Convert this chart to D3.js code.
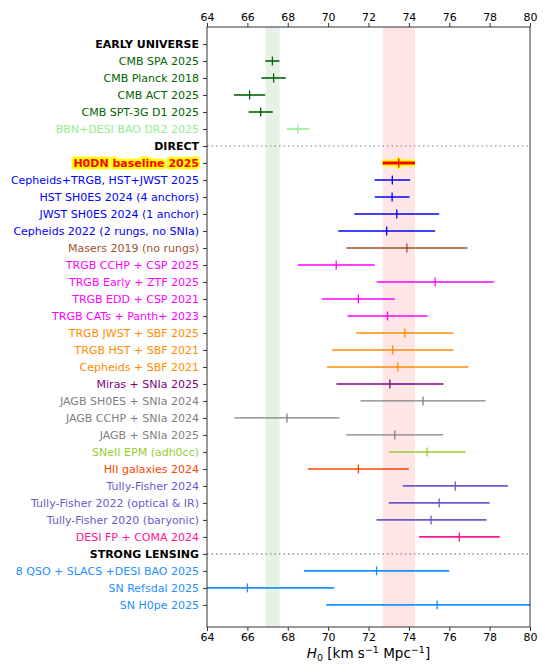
<!doctype html>
<html>
<head>
<meta charset="utf-8">
<style>
  body{ margin:0; background:#fff; }
  text{ font-family: "DejaVu Sans", sans-serif; }
</style>
<script src="https://d3js.org/d3.v7.min.js"></script>
</head>
<body>
<div id="chart"></div>
<script>
// rows, top to bottom (headings have no value)
var labels = ["EARLY UNIVERSE", "CMB SPA 2025", "CMB Planck 2018", "CMB ACT 2025", "CMB SPT-3G D1 2025",
  "BBN+DESI BAO DR2 2025", "DIRECT", "H0DN baseline 2025", "Cepheids+TRGB, HST+JWST 2025",
  "HST SH0ES 2024 (4 anchors)", "JWST SH0ES 2024 (1 anchor)", "Cepheids 2022 (2 rungs, no SNIa)",
  "Masers 2019 (no rungs)", "TRGB CCHP + CSP 2025", "TRGB Early + ZTF 2025", "TRGB EDD + CSP 2021",
  "TRGB CATs + Panth+ 2023", "TRGB JWST + SBF 2025", "TRGB HST + SBF 2021", "Cepheids + SBF 2021",
  "Miras + SNIa 2025", "JAGB SH0ES + SNIa 2024", "JAGB CCHP + SNIa 2024", "JAGB + SNIa 2025",
  "SNeII EPM (adh0cc)", "HII galaxies 2024", "Tully-Fisher 2024", "Tully-Fisher 2022 (optical & IR)",
  "Tully-Fisher 2020 (baryonic)", "DESI FP + COMA 2024", "STRONG LENSING", "8 QSO + SLACS +DESI BAO 2025",
  "SN Refsdal 2025", "SN H0pe 2025"];
var h0 = [null, 67.24, 67.3, 66.11, 66.66, 68.5, null, 73.5, 73.18, 73.17, 73.4, 72.9, 73.9, 70.4, 75.3,
  71.5, 72.94, 73.8, 73.2, 73.45, 73.06, 74.7, 67.96, 73.3, 74.9, 71.5, 76.3, 75.5, 75.1, 76.5, null,
  72.4, 66.0, 75.4];
var errLow = [null, 0.35, 0.6, 0.77, 0.6, 0.55, null, 0.8, 0.88, 0.86, 2.1, 2.4, 3.0, 1.9, 2.9, 1.8, 1.98,
  2.4, 3.0, 3.5, 2.65, 3.1, 2.6, 2.4, 1.9, 2.5, 2.6, 2.5, 2.7, 2.0, null, 3.6, 4.3, 5.5];
var errHigh = [null, 0.35, 0.6, 0.77, 0.6, 0.55, null, 0.8, 0.88, 0.86, 2.1, 2.4, 3.0, 1.9, 2.9, 1.8, 1.98,
  2.4, 3.0, 3.5, 2.65, 3.1, 2.6, 2.4, 1.9, 2.5, 2.6, 2.5, 2.75, 2.0, null, 3.6, 4.3, 8.1];
var groups = ["head", "cmb", "cmb", "cmb", "cmb", "bbn", "head", "h0dn", "ceph", "ceph", "ceph", "ceph",
  "maser", "trgb", "trgb", "trgb", "trgb", "sbf", "sbf", "sbf", "mira", "jagb", "jagb", "jagb", "sn2",
  "hii", "tf", "tf", "tf", "fp", "head", "lens", "lens", "lens"];
var dottedRows = ["DIRECT", "STRONG LENSING"];
var xTicks = [64, 66, 68, 70, 72, 74, 76, 78, 80];
var bandEarly = [66.9, 67.6];
var bandLate = [72.7, 74.3];

var colors = {head: "black", cmb: "darkgreen", bbn: "lightgreen", h0dn: "red", ceph: "blue",
  maser: "sienna", trgb: "magenta", sbf: "darkorange", mira: "purple", jagb: "gray",
  sn2: "yellowgreen", hii: "orangered", tf: "slateblue", fp: "deeppink", lens: "dodgerblue"};

var width = 547, height = 666;
var margin = {top: 27, right: 17, bottom: 39, left: 207};

var svg = d3.select("#chart").append("svg")
  .attr("width", width)
  .attr("height", height);

var x = d3.scaleLinear().domain([64, 80]).range([margin.left, width - margin.right]);
var y = d3.scaleLinear().domain([-1, 34.3]).range([margin.top, height - margin.bottom]);

var rows = labels.map(function(d, i) {
  return {label: d, h0: h0[i], lo: errLow[i], hi: errHigh[i], group: groups[i], i: i};
});

svg.append("clipPath").attr("id", "plotclip")
  .append("rect")
  .attr("x", x(64)).attr("y", y(-1))
  .attr("width", x(80) - x(64)).attr("height", y(34.3) - y(-1));

// shaded bands
svg.append("rect")
  .attr("x", x(bandEarly[0])).attr("width", x(bandEarly[1]) - x(bandEarly[0]))
  .attr("y", y(-1)).attr("height", y(34.3) - y(-1))
  .attr("fill", "green").attr("fill-opacity", 0.1);
svg.append("rect")
  .attr("x", x(bandLate[0])).attr("width", x(bandLate[1]) - x(bandLate[0]))
  .attr("y", y(-1)).attr("height", y(34.3) - y(-1))
  .attr("fill", "red").attr("fill-opacity", 0.1);

// dotted separators
svg.selectAll(".sep")
  .data(rows.filter(function(d) { return dottedRows.indexOf(d.label) >= 0; }))
  .enter().append("line")
  .attr("class", "sep")
  .attr("x1", x(64)).attr("x2", x(80))
  .attr("y1", function(d) { return y(d.i); })
  .attr("y2", function(d) { return y(d.i); })
  .attr("stroke", "gray").attr("stroke-width", 1.2)
  .attr("stroke-dasharray", "1.5,3");

// error bars
var pts = rows.filter(function(d) { return d.h0 !== null; });
var g = svg.append("g").attr("clip-path", "url(#plotclip)");

// yellow glow for the baseline
var base = pts.filter(function(d) { return d.group === "h0dn"; });
g.selectAll(".glow")
  .data(base).enter().append("line")
  .attr("x1", function(d) { return x(d.h0 - d.lo); })
  .attr("x2", function(d) { return x(d.h0 + d.hi); })
  .attr("y1", function(d) { return y(d.i); })
  .attr("y2", function(d) { return y(d.i); })
  .attr("stroke", "yellow").attr("stroke-width", 7);
g.selectAll(".glowtick")
  .data(base).enter().append("line")
  .attr("x1", function(d) { return x(d.h0); })
  .attr("x2", function(d) { return x(d.h0); })
  .attr("y1", function(d) { return y(d.i) - 6; })
  .attr("y2", function(d) { return y(d.i) + 6; })
  .attr("stroke", "yellow").attr("stroke-width", 4);

g.selectAll(".bar")
  .data(pts).enter().append("line")
  .attr("class", "bar")
  .attr("x1", function(d) { return x(d.h0 - d.lo); })
  .attr("x2", function(d) { return x(d.h0 + d.hi); })
  .attr("y1", function(d) { return y(d.i); })
  .attr("y2", function(d) { return y(d.i); })
  .attr("stroke", function(d) { return colors[d.group]; })
  .attr("stroke-width", function(d) { return d.group === "h0dn" ? 3 : (d.group === "jagb" ? 1.3 : 1.6); });

g.selectAll(".mark")
  .data(pts).enter().append("line")
  .attr("class", "mark")
  .attr("x1", function(d) { return x(d.h0); })
  .attr("x2", function(d) { return x(d.h0); })
  .attr("y1", function(d) { return y(d.i) - 4.5; })
  .attr("y2", function(d) { return y(d.i) + 4.5; })
  .attr("stroke", function(d) { return colors[d.group]; })
  .attr("stroke-width", 1.3);

// axes
var yAxis = d3.axisLeft(y)
  .tickValues(d3.range(labels.length))
  .tickFormat(function(i) { return labels[i]; })
  .tickSize(4).tickPadding(4);
var yg = svg.append("g")
  .attr("transform", "translate(" + x(64) + ",0)")
  .call(yAxis);
yg.select(".domain").remove();
yg.selectAll(".tick line").attr("stroke", "#333");
yg.selectAll(".tick text")
  .attr("font-size", 11)
  .attr("font-family", "DejaVu Sans")
  .attr("fill", function(i) { return colors[groups[i]]; })
  .attr("font-weight", function(i) { return (groups[i] === "head" || groups[i] === "h0dn") ? "bold" : "normal"; })
  .each(function(i) {
    if (groups[i] === "h0dn") {
      d3.select(this)
        .attr("stroke", "yellow").attr("stroke-width", 5)
        .attr("stroke-linejoin", "round").attr("paint-order", "stroke");
    }
  });

var xb = svg.append("g")
  .attr("transform", "translate(0," + y(34.3) + ")")
  .call(d3.axisBottom(x).tickValues(xTicks).tickSize(4).tickPadding(2.5));
var xt = svg.append("g")
  .attr("transform", "translate(0," + y(-1) + ")")
  .call(d3.axisTop(x).tickValues(xTicks).tickSize(4).tickPadding(2.5));
[xb, xt].forEach(function(ax) {
  ax.select(".domain").remove();
  ax.selectAll(".tick line").attr("stroke", "#333");
  ax.selectAll(".tick text").attr("font-size", 11).attr("font-family", "DejaVu Sans").attr("fill", "#000");
});

// frame
svg.append("rect")
  .attr("x", x(64)).attr("y", y(-1))
  .attr("width", x(80) - x(64)).attr("height", y(34.3) - y(-1))
  .attr("fill", "none").attr("stroke", "#333").attr("stroke-width", 1);

// x label
var xl = svg.append("text")
  .attr("x", (x(64) + x(80)) / 2)
  .attr("y", 658)
  .attr("text-anchor", "middle")
  .attr("font-size", 13.5);
xl.append("tspan").attr("font-style", "italic").text("H");
xl.append("tspan").attr("font-size", 9.5).attr("dy", 3).text("0");
xl.append("tspan").attr("dy", -3).text(" [km s");
xl.append("tspan").attr("font-size", 9.5).attr("dy", -5).text("\u22121");
xl.append("tspan").attr("dy", 5).text(" Mpc");
xl.append("tspan").attr("font-size", 9.5).attr("dy", -5).text("\u22121");
xl.append("tspan").attr("dy", 5).text("]");
</script>
</body>
</html>
